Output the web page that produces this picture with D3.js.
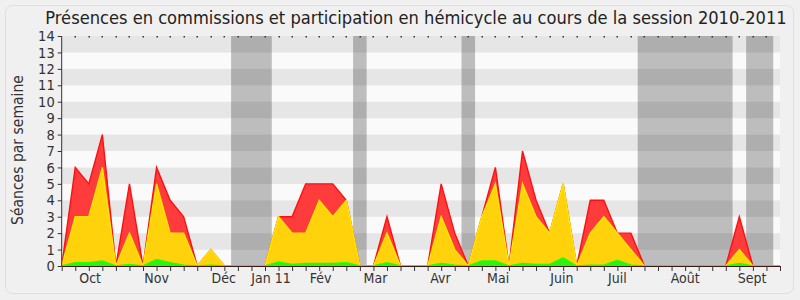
<!DOCTYPE html>
<html>
<head>
<meta charset="utf-8">
<script src="https://cdn.jsdelivr.net/npm/d3@7"></script>
<style>
  html, body { margin: 0; padding: 0; background: #f0f0f0; }
  svg { display: block; font-family: "DejaVu Sans Condensed", "DejaVu Sans", sans-serif; }
</style>
</head>
<body>
<svg id="chart" width="800" height="300"></svg>
<script>
// weekly values, one per week of the session (week 0 .. 53)
const presenceCommission = [0, 6, 5, 8, 0, 5, 0, 6, 4, 3, 0, 1, 0, 0, 0, 0, 3, 3, 5, 5, 5, 4, 0, 0, 3, 0, 0, 0, 5, 2, 0, 3, 6, 0, 7, 4, 2, 5, 0, 4, 4, 2, 2, 0, 0, 0, 0, 0, 0, 0, 3, 0, 0, 0];
const presenceHemicycle = [0, 3, 3, 6, 0, 2, 0, 5, 2, 2, 0, 1, 0, 0, 0, 0, 3, 2, 2, 4, 3, 4, 0, 0, 2, 0, 0, 0, 3, 1, 0, 3, 5, 0, 5, 3, 2, 5, 0, 2, 3, 2, 1, 0, 0, 0, 0, 0, 0, 0, 1, 0, 0, 0];
const interventions = [0, 0.2, 0.2, 0.3, 0, 0.1, 0, 0.4, 0.2, 0.05, 0, 0.05, 0, 0, 0, 0, 0.25, 0.1, 0.15, 0.15, 0.15, 0.2, 0, 0, 0.2, 0, 0, 0, 0.15, 0.05, 0, 0.3, 0.3, 0, 0.15, 0.1, 0.1, 0.5, 0, 0.05, 0.05, 0.35, 0.05, 0, 0, 0, 0, 0, 0, 0, 0.15, 0, 0, 0];

// month labels and where they sit (in weeks)
const monthLabels = ['Oct', 'Nov', 'Déc', 'Jan 11', 'Fév', 'Mar', 'Avr', 'Mai', 'Juin', 'Juil', 'Août', 'Sept'];
const monthWeeks = [2.1, 7.0, 11.95, 15.45, 19.1, 23.15, 27.95, 32.2, 36.9, 41.0, 46.0, 50.95];

// parliamentary holidays [start week, end week]
const holidays = [[12.5, 15.5], [21.5, 22.5], [29.5, 30.5], [42.5, 49.5], [50.5, 52.5]];

const yTicks = d3.range(0, 15);

const svg = d3.select('#chart');
const nWeeks = presenceCommission.length - 1;

const x = d3.scaleLinear().domain([0, nWeeks]).range([61.7, 780]);
const y = d3.scaleLinear().domain([0, 14]).range([266, 36]);

// outer frame
svg.append('rect')
  .attr('x', 5.5).attr('y', 5.5)
  .attr('width', 788).attr('height', 288)
  .attr('rx', 7)
  .attr('fill', '#f0f0f0')
  .attr('stroke', '#dedede');

// stripes
const stripes = svg.append('g');
stripes.selectAll('rect')
  .data(d3.range(0, 14))
  .join('rect')
  .attr('x', x(0))
  .attr('width', x(nWeeks) - x(0))
  .attr('y', (d) => y(d + 1))
  .attr('height', (d) => y(d) - y(d + 1))
  .attr('fill', (d) => (d % 2 === 1 ? '#e6e6e6' : '#fafafa'));

// holidays
svg.append('g')
  .selectAll('rect')
  .data(holidays)
  .join('rect')
  .attr('x', (d) => x(d[0]))
  .attr('width', (d) => x(d[1]) - x(d[0]))
  .attr('y', y(14))
  .attr('height', y(0) - y(14))
  .attr('fill', '#000')
  .attr('fill-opacity', 0.245);

// areas
function drawArea(values, fill, stroke) {
  const area = d3.area()
    .x((d, i) => x(i))
    .y0(y(0))
    .y1((d) => y(d));
  const line = d3.line()
    .x((d, i) => x(i))
    .y((d) => y(d));
  svg.append('path')
    .datum(values)
    .attr('d', area)
    .attr('fill', fill);
  svg.append('path')
    .datum(values)
    .attr('d', line)
    .attr('fill', 'none')
    .attr('stroke', stroke)
    .attr('stroke-width', 1.4)
    .attr('stroke-linejoin', 'miter');
}

drawArea(presenceCommission, '#ff3b3b', '#ff1010');
drawArea(presenceHemicycle, '#ffd20c', '#ffe600');
drawArea(interventions, '#2ef013', '#22ff00');

// axes
const yAxis = svg.append('g')
  .attr('transform', `translate(${x(0)},0)`)
  .call(d3.axisLeft(y).tickValues(yTicks).tickSize(4).tickPadding(3).tickFormat(d3.format('d')));
yAxis.select('.domain').attr('stroke', '#333').attr('d', `M0,${y(14)}V${y(0)}`);
yAxis.selectAll('.tick line').attr('stroke', '#333');
yAxis.selectAll('.tick text')
  .attr('font-size', 14.5)
  .attr('fill', '#333')
  .attr('font-family', '"DejaVu Sans Condensed", "DejaVu Sans", sans-serif');

const xAxis = svg.append('g')
  .attr('transform', `translate(0,${y(0)})`)
  .call(d3.axisBottom(x).tickValues(d3.range(0, nWeeks + 1)).tickSize(5).tickFormat(''));
xAxis.select('.domain').attr('stroke', '#3a1a10').attr('d', `M${x(0)},0.5H${x(nWeeks)}`);
xAxis.selectAll('.tick line').attr('stroke', '#333');

// small ticks along the top
svg.append('g')
  .selectAll('rect')
  .data(d3.range(1, nWeeks))
  .join('rect')
  .attr('x', (d) => Math.round(x(d)) - 0.5)
  .attr('y', y(14))
  .attr('width', 1.5)
  .attr('height', 1.5)
  .attr('fill', '#333');

// month labels
svg.append('g')
  .selectAll('text')
  .data(monthLabels)
  .join('text')
  .attr('x', (d, i) => x(monthWeeks[i]))
  .attr('y', 283)
  .attr('text-anchor', 'middle')
  .attr('font-size', 14)
  .attr('fill', '#333')
  .text((d) => d);

// title, sized to span the same width as the original
const title = svg.append('text')
  .attr('x', 416)
  .attr('y', 24)
  .attr('text-anchor', 'middle')
  .attr('font-size', 100)
  .attr('fill', '#222')
  .text('Présences en commissions et participation en hémicycle au cours de la session 2010-2011');
const tw = title.node().getComputedTextLength();
title.attr('font-size', 100 * 742 / tw);

// y label
const ylab = svg.append('text')
  .attr('transform', 'translate(23,150) rotate(-90)')
  .attr('text-anchor', 'middle')
  .attr('font-size', 100)
  .attr('fill', '#333')
  .text('Séances par semaine');
const lw = ylab.node().getComputedTextLength();
ylab.attr('font-size', 100 * 150 / lw);
</script>
</body>
</html>
